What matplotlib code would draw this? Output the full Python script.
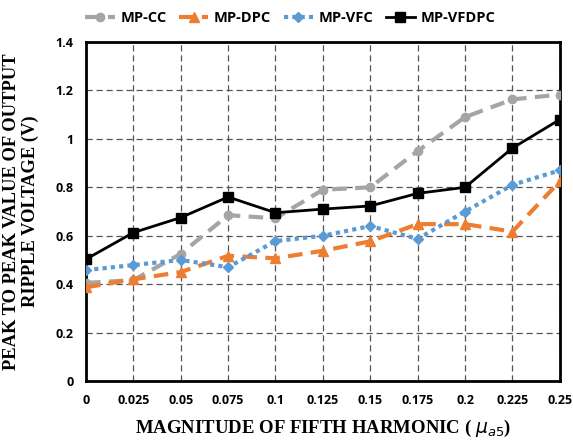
import matplotlib
matplotlib.use("Agg")
import matplotlib.pyplot as plt

x_vals = [0, 0.025, 0.05, 0.075, 0.1, 0.125, 0.15, 0.175, 0.2, 0.225, 0.25]
x_labels = ["0", "0.025", "0.05", "0.075", "0.1", "0.125", "0.15", "0.175", "0.2", "0.225", "0.25"]
mp_cc = [0.405, 0.417, 0.525, 0.685, 0.672, 0.79, 0.80, 0.95, 1.09, 1.163, 1.183]
mp_dpc = [0.387, 0.42, 0.45, 0.517, 0.507, 0.538, 0.577, 0.648, 0.648, 0.617, 0.825]
mp_vfc = [0.458, 0.479, 0.50, 0.47, 0.578, 0.60, 0.64, 0.587, 0.70, 0.81, 0.87]
mp_vfdpc = [0.503, 0.613, 0.675, 0.76, 0.695, 0.71, 0.723, 0.775, 0.80, 0.962, 1.08]
y_ticks = [0, 0.2, 0.4, 0.6, 0.8, 1.0, 1.2, 1.4]
y_labels = ["0", "0.2", "0.4", "0.6", "0.8", "1", "1.2", "1.4"]

plt.rcParams["mathtext.fontset"] = "dejavusans"

fig = plt.figure(figsize=(5.73, 4.4), dpi=100)
ax = fig.add_axes([0.150, 0.134, 0.827, 0.7705])

ax.plot(x_vals, mp_cc, color="#A5A5A5", lw=3, ls=(0, (3.5, 2)), marker="o", ms=6, label="MP-CC", zorder=3)
ax.plot(x_vals, mp_dpc, color="#ED7D31", lw=3, ls=(0, (3.5, 2)), marker="^", ms=7, label="MP-DPC", zorder=3)
ax.plot(x_vals, mp_vfc, color="#5B9BD5", lw=3, ls=(0, (1, 1)), marker="D", ms=5.5, label="MP-VFC", zorder=3)
ax.plot(x_vals, mp_vfdpc, color="black", lw=2, ls="-", marker="s", ms=6.5, label="MP-VFDPC", zorder=4)

ax.set_xlim(0, 0.25)
ax.set_ylim(0, 1.4)
ax.set_xticks(x_vals)
ax.set_xticklabels(x_labels)
ax.set_yticks(y_ticks)
ax.set_yticklabels(y_labels)
ax.grid(True, color="#555555", ls=(0, (5, 3)), lw=0.9)
ax.set_axisbelow(True)
ax.tick_params(length=0, pad=9)
for lab in ax.get_xticklabels() + ax.get_yticklabels():
    lab.set_fontfamily("Open Sans")
    lab.set_fontweight("bold")
    lab.set_fontsize(9)
for sp in ax.spines.values():
    sp.set_linewidth(2)
    sp.set_color("black")

ax.set_xlabel(r"MAGNITUDE OF FIFTH HARMONIC ( $\mu_{a5}$)", fontfamily="Liberation Serif",
              fontweight="bold", fontsize=13.5, labelpad=8)
ax.set_ylabel("PEAK TO PEAK VALUE OF OUTPUT\nRIPPLE VOLTAGE (V)", fontfamily="Liberation Serif",
              fontweight="bold", fontsize=13.3, labelpad=12, linespacing=1.1)

leg = fig.legend(loc="upper center", bbox_to_anchor=(0.507, 1.005), ncol=4, frameon=False,
                 prop={"family": "Open Sans", "weight": "bold", "size": 10.5},
                 handlelength=2.0, columnspacing=0.85, handletextpad=0.4)

fig.savefig("out.png", dpi=100)
